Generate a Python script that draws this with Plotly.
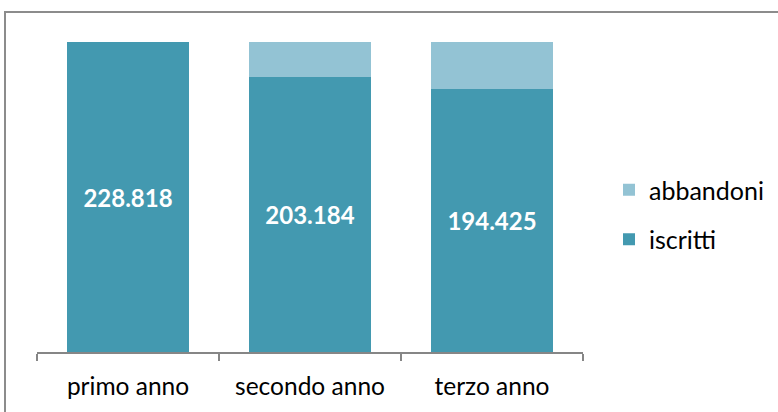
import plotly.graph_objects as go

categories = ["primo anno", "secondo anno", "terzo anno"]
iscritti = [228818, 203184, 194425]
abbandoni = [0, 25634, 34393]
labels = ["228.818", "203.184", "194.425"]

C_ISC = "#4399B0"
C_ABB = "#93C3D4"

fig = go.Figure()
fig.add_trace(go.Bar(
    x=categories, y=iscritti, name="iscritti", marker_color=C_ISC,
    marker_line_width=0, text=labels, textposition="inside",
    insidetextanchor="middle", textangle=0, constraintext="none",
    textfont=dict(family="Lato", size=24, color="white", weight="bold"),
    legendrank=2, legendgroup="a",
))
fig.add_trace(go.Bar(
    x=categories, y=abbandoni, name="abbandoni", marker_color=C_ABB,
    marker_line_width=0, textposition="none", legendrank=1, legendgroup="b",
))

W, H = 778, 412
L, R, T, B = 37, 583, 42, 352
pw = R - L
ph = B - T

def px2x(px):
    return (px - L) / pw

def px2y(py):
    return (B - py) / ph

fig.update_layout(
    width=W, height=H,
    margin=dict(l=L, r=W - R, t=T, b=H - B, pad=0, autoexpand=False),
    barmode="stack", bargap=0.335,
    plot_bgcolor="white", paper_bgcolor="white",
    font=dict(family="Lato", size=24, color="black"),
    showlegend=True,
    uniformtext=dict(mode=False),
    legend=dict(
        x=px2x(609), y=px2y(167), xanchor="left", yanchor="top",
        traceorder="grouped", tracegroupgap=14,
        font=dict(family="Lato", size=25, color="black"),
        itemwidth=30,
    ),
    xaxis=dict(
        showline=True, linecolor="#868686", linewidth=1.5,
        ticks="outside", tickson="boundaries", ticklen=7,
        tickcolor="#868686", tickwidth=1.5, showgrid=False,
        tickangle=0, automargin=False, ticklabelstandoff=12,
        tickfont=dict(family="Lato", size=24.5, color="black"),
    ),
    yaxis=dict(
        range=[0, 228818], visible=False, showgrid=False, automargin=False,
    ),
    shapes=[dict(
        type="rect", xref="paper", yref="paper",
        x0=px2x(5), x1=px2x(800), y0=px2y(12), y1=px2y(430),
        line=dict(color="#8C8C8C", width=2), fillcolor="rgba(0,0,0,0)",
        layer="above",
    )],
)

fig.write_html("out.html", config={"displayModeBar": False},
               post_script="document.body.style.margin='0';")
